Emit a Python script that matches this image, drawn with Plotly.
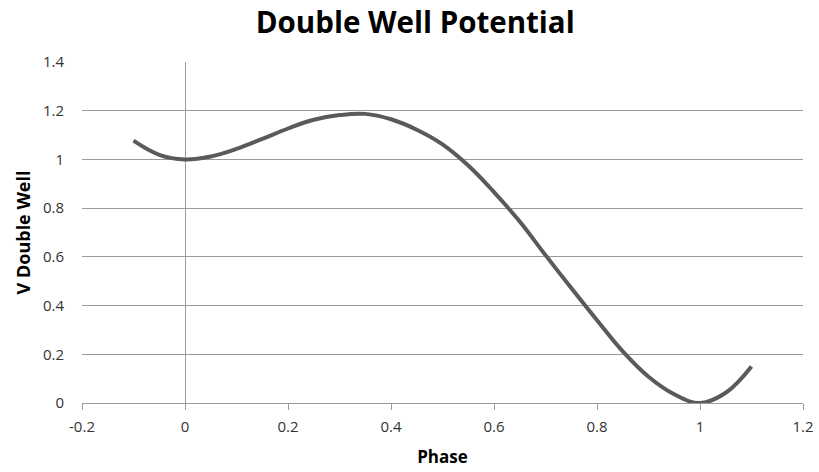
import plotly.graph_objects as go

phase = [-0.1, -0.05, 0.0, 0.05, 0.1, 0.15, 0.2, 0.25, 0.3, 0.35, 0.4, 0.45, 0.5,
         0.55, 0.6, 0.65, 0.7, 0.75, 0.8, 0.85, 0.9, 0.95, 1.0, 1.05, 1.1]
v_double_well = [1.077, 1.019, 1.000, 1.012, 1.043, 1.084, 1.127, 1.163, 1.182, 1.187,
                 1.165, 1.122, 1.062, 0.975, 0.866, 0.745, 0.607, 0.472, 0.340, 0.212,
                 0.108, 0.036, 0.0, 0.042, 0.150]

x_ticks = [-0.2, 0, 0.2, 0.4, 0.6, 0.8, 1, 1.2]
x_tick_text = ["-0.2", "0", "0.2", "0.4", "0.6", "0.8", "1", "1.2"]
y_ticks = [0, 0.2, 0.4, 0.6, 0.8, 1, 1.2, 1.4]
y_tick_text = ["0", "0.2", "0.4", "0.6", "0.8", "1", "1.2", "1.4"]

font_family = "Open Sans, Lato, sans-serif"

fig = go.Figure()
fig.add_trace(go.Scatter(
    x=phase, y=v_double_well, mode="lines",
    line=dict(color="#5a5a5a", width=4, shape="spline", smoothing=1.1),
    showlegend=False, hoverinfo="skip",
))

fig.update_layout(
    width=819, height=472,
    margin=dict(l=82, r=16, t=62, b=69, autoexpand=False),
    paper_bgcolor="white", plot_bgcolor="white",
    title=dict(text="<b>Double Well Potential</b>", x=0.507, xanchor="center",
               y=0.953, yanchor="middle",
               font=dict(family=font_family, size=29.5, color="#000000")),
    font=dict(family=font_family, color="#333333"),
)

fig.update_xaxes(
    range=[-0.2, 1.2], tickvals=x_ticks, ticktext=x_tick_text,
    showgrid=False, zeroline=True, zerolinecolor="#9a9a9a", zerolinewidth=1,
    showline=True, linecolor="#9a9a9a", linewidth=1, mirror=False,
    ticks="outside", ticklen=6, tickcolor="#9a9a9a", tickwidth=1,
    ticklabelstandoff=4, automargin=False,
    tickfont=dict(size=15, color="#333333"),
    title=dict(text="<b>Phase</b>", font=dict(size=17, color="#000000"), standoff=16),
)
fig.update_yaxes(
    range=[0, 1.4], tickvals=y_ticks, ticktext=y_tick_text,
    showgrid=True, gridcolor="#9a9a9a", gridwidth=1,
    zeroline=False, showline=False, ticks="",
    ticklabelstandoff=17, automargin=False,
    tickfont=dict(size=15, color="#333333"),
    title=dict(text="<b>V Double Well</b>", font=dict(size=18, color="#000000"), standoff=7),
)

fig.write_html("out.html")
